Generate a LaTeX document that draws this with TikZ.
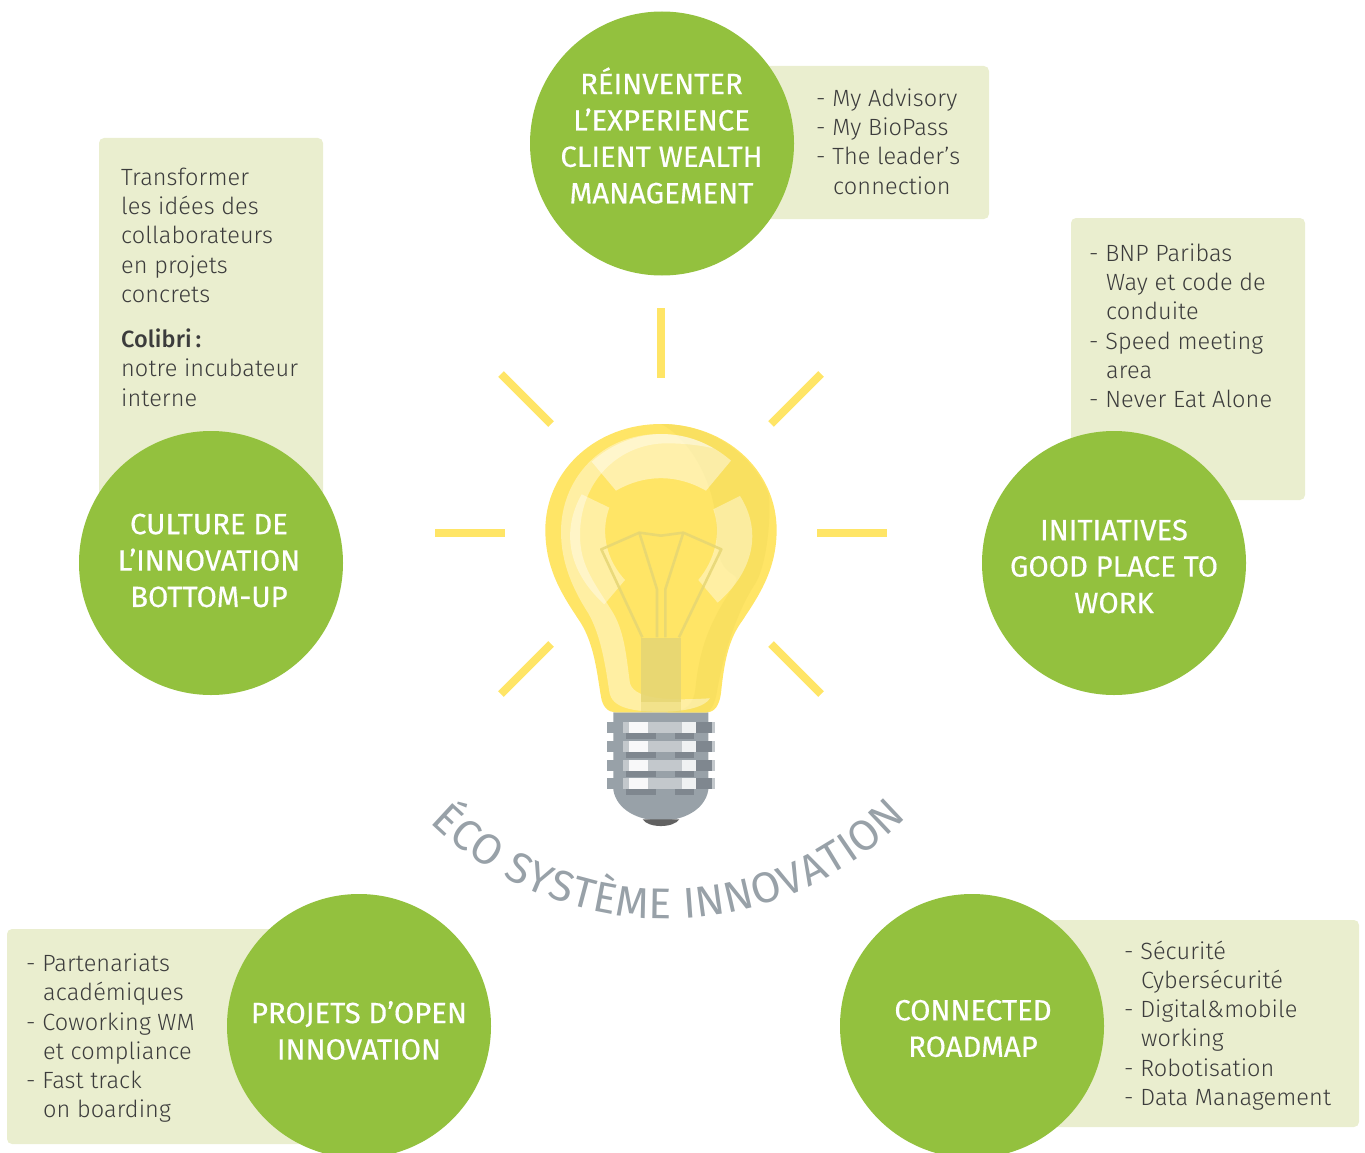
\documentclass[tikz,border=0pt]{standalone}
\usepackage{fontspec}
\setmainfont{Fira Sans}[UprightFont=* Light,BoldFont=* Medium,LetterSpace=0.4]
\newfontfamily\headfont{Fira Sans}[UprightFont=*,FakeBold=0.4]
\newfontfamily\arcfont{Fira Sans}[UprightFont=*]
\usetikzlibrary{decorations.text,calc}
\definecolor{leaf}{HTML}{93C13E}
\definecolor{pale}{HTML}{EAEECF}
\definecolor{sun}{HTML}{FFE566}
\definecolor{sunshade}{HTML}{F9E060}
\definecolor{fil}{HTML}{E6D674}
\definecolor{steel}{HTML}{98A1A8}
\definecolor{steeld}{HTML}{7F878F}
\definecolor{steell}{HTML}{C3C8CC}
\definecolor{ink}{HTML}{3C3C3C}
\tikzset{
  bubble/.style={circle,fill=leaf,draw=none,minimum size=264pt,inner sep=0pt},
  bubbletext/.style={inner sep=0pt,align=center,text=white,
    font=\headfont\fontsize{29.3}{36.4}\selectfont},
  panel/.style={fill=pale,rounded corners=5pt,draw=none},
  note/.style={anchor=north west,inner sep=0pt,align=left,text=ink,font=\fontsize{23.5}{29.3}\selectfont},
  ray/.style={draw=sun,line width=8pt},
}
\newcommand{\hang}{\hspace*{17pt}}
\begin{document}
\begin{tikzpicture}[x=1pt,y=-1pt]
\useasboundingbox (0,0) rectangle (1365,1153);
\clip (0,0) rectangle (1365,1153);
% panels
\fill[panel] (700,66) rectangle (989,219);
\fill[panel] (99,138) rectangle (323,520);
\fill[panel] (1071,218) rectangle (1305,500);
\fill[panel] (7,929) rectangle (320,1144);
\fill[panel] (1000,920) rectangle (1359,1127);
% rays
\coordinate (r1a) at (660.5,308); \coordinate (r1b) at (660.5,378);
\coordinate (r2a) at (435,533); \coordinate (r2b) at (505,533);
\coordinate (r3a) at (817,533); \coordinate (r3b) at (887,533);
\draw[ray] (r1a) -- (r1b);
\draw[ray] (r2a) -- (r2b);
\draw[ray] (r3a) -- (r3b);
\draw[ray] (501,374) -- (551,424);
\draw[ray] (821,374) -- (771,424);
\draw[ray] (551,644) -- (501,694);
\draw[ray] (771,644) -- (821,694);
% circles
\node[bubble] (top) at (662,143.5) {};
\node[bubble] (left) at (211,563) {};
\node[bubble] (right) at (1114,563) {};
\node[bubble] (bl) at (359,1026) {};
\node[bubble] (br) at (972,1026) {};
\node[bubbletext] (topt) at (661.5,135.5) {RÉINVENTER\\L’EXPERIENCE\\CLIENT WEALTH\\MANAGEMENT};
\node[bubbletext] (leftt) at (209,560.5) {CULTURE DE\\L’INNOVATION\\BOTTOM-UP};
\node[bubbletext] (rightt) at (1114,566.5) {INITIATIVES\\GOOD PLACE TO\\WORK};
\node[bubbletext] (blt) at (359,1030.5) {PROJETS D’OPEN\\INNOVATION};
\node[bubbletext] (brt) at (973,1028.5) {CONNECTED\\ROADMAP};
% notes
\node[note] (n1) at (816,88.5) {- My Advisory\\- My BioPass\\- The leader’s\\\hang connection};
\node[note] (n2) at (121,167.5) {Transformer\\les idées des\\collaborateurs\\en projets\\concrets};
\node[note] (n2b) at (121,328.5) {\textbf{Colibri\,:}\\notre incubateur\\interne};
\node[note] (n3) at (1089,243.5) {- BNP Paribas\\\hang Way et code de\\\hang conduite\\- Speed meeting\\\hang area\\- Never Eat Alone};
\node[note] (n4) at (26,953.5) {- Partenariats\\\hang académiques\\- Coworking WM\\\hang et compliance\\- Fast track\\\hang on boarding};
\node[note] (n5) at (1124,940.5) {- Sécurité\\\hang Cybersécurité\\- Digital\&mobile\\\hang working\\- Robotisation\\- Data Management};
% bulb
\begin{scope}[shift={(520,400)},x=0.3333pt,y=-0.3333pt]
 % screw
 \fill[steel] (280,937) -- (565,937) -- (565,1170) .. controls (555,1230) and (490,1262) .. (423,1262) .. controls (355,1262) and (290,1230) .. (280,1170) -- cycle;
 \fill[black!62] (368,1258) .. controls (385,1285) and (460,1285) .. (478,1258) -- cycle;
 \foreach \yy/\hh in {965/33,1022/33,1079/34,1133/34}{
  \fill[steel] (261,\yy) rectangle ++(48,\hh);
  \fill[steell] (309,\yy) rectangle ++(18,\hh);
  \fill[white!93!steel] (327,\yy) rectangle ++(57,\hh);
  \fill[steell] (384,\yy) rectangle ++(102,\hh);
  \fill[white!85!steel] (486,\yy) rectangle ++(42,\hh);
  \fill[steeld] (528,\yy) rectangle ++(48,\hh);
  \fill[steell] (576,\yy) rectangle ++(9,\hh);
  \fill[steeld] (317,\yy+\hh) rectangle ++(91,18);
  \fill[steeld] (466,\yy+\hh) rectangle ++(57,18);
 }
 % glass
 \fill[sun] (423,72) .. controls (230,72) and (76,210) .. (76,390)
   .. controls (76,510) and (130,590) .. (180,665)
   .. controls (225,735) and (232,830) .. (243,890)
   .. controls (247,920) and (265,937) .. (285,937)
   -- (560,937) .. controls (585,937) and (598,915) .. (603,880)
   .. controls (612,790) and (625,720) .. (665,665)
   .. controls (715,590) and (770,510) .. (770,390)
   .. controls (770,210) and (616,72) .. (423,72) -- cycle;
 % darker right shade
 \fill[sunshade] (423,72) .. controls (560,72) and (690,150) .. (745,280)
   .. controls (755,320) and (745,500) .. (700,560)
   .. controls (650,640) and (610,760) .. (590,880)
   .. controls (585,910) and (570,937) .. (560,937) -- (440,937)
   .. controls (500,935) and (522,915) .. (527,860)
   .. controls (540,730) and (580,650) .. (640,560)
   .. controls (680,500) and (590,560) .. (590,400)
   .. controls (590,240) and (500,110) .. (423,72) -- cycle;
 % side highlight
 \fill[white,opacity=.4] (420,102) .. controls (240,102) and (123,240) .. (123,395)
   .. controls (123,490) and (160,570) .. (205,640)
   .. controls (245,710) and (258,810) .. (268,875)
   .. controls (275,925) and (340,935) .. (423,935)
   .. controls (500,935) and (555,920) .. (570,895)
   .. controls (480,900) and (345,905) .. (330,850)
   .. controls (320,780) and (315,700) .. (280,640)
   .. controls (225,550) and (180,500) .. (180,405)
   .. controls (180,240) and (300,130) .. (440,130)
   .. controls (490,130) and (540,135) .. (580,145)
   .. controls (535,118) and (480,102) .. (420,102) -- cycle;
 % ring highlights
 \fill[white,opacity=.45] (215,185) .. controls (340,75) and (510,75) .. (633,182) -- (558,272)
   .. controls (470,222) and (375,222) .. (288,272) -- cycle;
 \fill[white,opacity=.4] (185,283) -- (268,323) .. controls (240,400) and (260,480) .. (315,540) -- (253,613)
   .. controls (140,510) and (125,390) .. (185,283) -- cycle;
 \fill[white,opacity=.4] (660,288) -- (580,328) .. controls (605,400) and (585,480) .. (535,540) -- (593,608)
   .. controls (705,510) and (725,390) .. (660,288) -- cycle;
 % filament
 \begin{scope}[draw=fil,line width=2.6pt,opacity=.85,line join=round]
  \draw (367,712) -- (244,448) -- (358,398) -- (423,407) -- (490,398) -- (604,448) -- (477,712);
  \draw (358,398) -- (411,568) -- (411,712);
  \draw (490,398) -- (436,568) -- (436,712);
 \end{scope}
 \fill[fil,opacity=.9] (363,715) rectangle (483,905);
 \fill[fil,opacity=.5] (363,905) rectangle (483,935);
\end{scope}
% arc title
\coordinate (arcstart) at (430,822);
\path[decorate,decoration={text along path,text align={fit to path},
  text={|\arcfont\fontsize{43}{43}\selectfont\color{steel}|ÉCO SYSTÈME INNOVATION}}]
  (arcstart) arc[start angle=225.4,delta angle=90.3,radius=336pt];
\end{tikzpicture}
\end{document}
